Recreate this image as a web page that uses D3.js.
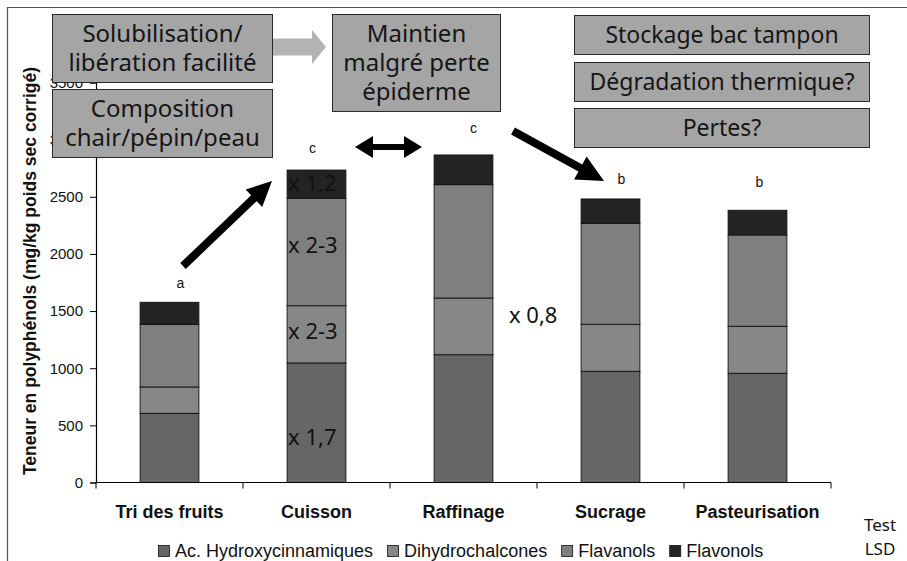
<!DOCTYPE html>
<html>
<head>
<meta charset="utf-8">
<script src="https://cdn.jsdelivr.net/npm/d3@7/dist/d3.min.js"></script>
<style>
  html, body { margin: 0; padding: 0; background: #fff; }
  svg { display: block; }
</style>
</head>
<body>
<svg id="chart" width="907" height="561"></svg>
<script>
// Process steps (x categories)
const categories = ["Tri des fruits", "Cuisson", "Raffinage", "Sucrage", "Pasteurisation"];

// Polyphenol content by class, mg/kg corrected dry weight
const acHydroxycinnamiques = [605, 1046, 1118, 973, 956];
const dihydrochalcones     = [231, 501, 496, 411, 411];
const flavanols            = [548, 940, 992, 884, 799];
const flavonols            = [193, 247, 260, 213, 216];

const seriesNames = ["Ac. Hydroxycinnamiques", "Dihydrochalcones", "Flavanols", "Flavonols"];
const seriesColors = ["#666666", "#878787", "#7f7f7f", "#232323"];

// LSD test groups
const lsdLetters = ["a", "c", "c", "b", "b"];

const yTicks = [0, 500, 1000, 1500, 2000, 2500, 3000, 3500];

const svg = d3.select("#chart");
const W = 907, H = 561;
const plot = { left: 96, right: 831, top: 82.5, bottom: 482.5 };

const x = d3.scaleBand()
  .domain(categories)
  .range([plot.left, plot.right])
  .paddingInner(0.6)
  .paddingOuter(0.3);

const y = d3.scaleLinear()
  .domain([0, 3500])
  .range([plot.bottom, plot.top]);

// outer frame (top and left edges)
svg.append("path")
  .attr("d", `M7.5,${H} V7.5 H${W}`)
  .attr("fill", "none")
  .attr("stroke", "#555")
  .attr("stroke-width", 1.2);

// stacked bars
const table = categories.map((c, i) => ({
  cat: c,
  "Ac. Hydroxycinnamiques": acHydroxycinnamiques[i],
  "Dihydrochalcones": dihydrochalcones[i],
  "Flavanols": flavanols[i],
  "Flavonols": flavonols[i]
}));
const stacked = d3.stack().keys(seriesNames)(table);

svg.append("g").selectAll("g")
  .data(stacked)
  .join("g")
  .attr("fill", (d, i) => seriesColors[i])
  .selectAll("rect")
  .data(d => d)
  .join("rect")
  .attr("x", d => x(d.data.cat))
  .attr("width", x.bandwidth())
  .attr("y", d => y(d[1]))
  .attr("height", d => y(d[0]) - y(d[1]))
  .attr("stroke", "#111")
  .attr("stroke-width", 0.9);

// y axis
const yAxis = svg.append("g")
  .attr("transform", `translate(${plot.left},0)`)
  .call(d3.axisLeft(y).tickValues(yTicks).tickSize(6).tickPadding(7).tickFormat(d3.format("d")));
yAxis.select(".domain").attr("stroke", "#000").attr("stroke-width", 1.2);
yAxis.selectAll(".tick line").attr("stroke", "#000");
yAxis.selectAll("text")
  .attr("font-family", "'Liberation Sans', Arial, sans-serif")
  .attr("font-size", 15)
  .attr("fill", "#111");

// x axis: baseline with ticks between categories
const step = x.step();
const gapHalf = step * x.paddingInner() / 2;
const xAxis = svg.append("g");
xAxis.append("line")
  .attr("x1", plot.left).attr("x2", plot.right)
  .attr("y1", plot.bottom).attr("y2", plot.bottom)
  .attr("stroke", "#000").attr("stroke-width", 1.2);
const boundaries = categories.map(c => x(c) - gapHalf).concat([x(categories[categories.length - 1]) + x.bandwidth() + gapHalf]);
xAxis.selectAll("line.tk")
  .data(boundaries)
  .join("line")
  .attr("class", "tk")
  .attr("x1", d => d).attr("x2", d => d)
  .attr("y1", plot.bottom).attr("y2", plot.bottom + 6)
  .attr("stroke", "#000");
xAxis.selectAll("text")
  .data(categories)
  .join("text")
  .attr("x", d => x(d) + x.bandwidth() / 2)
  .attr("y", 518)
  .attr("text-anchor", "middle")
  .attr("font-family", "'Liberation Sans', Arial, sans-serif")
  .attr("font-weight", "bold")
  .attr("font-size", 18)
  .attr("fill", "#111")
  .text(d => d);

// y axis title
svg.append("text")
  .attr("transform", "translate(36,271) rotate(-90)")
  .attr("text-anchor", "middle")
  .attr("font-family", "'Liberation Sans', Arial, sans-serif")
  .attr("font-weight", "bold")
  .attr("font-size", 17.5)
  .attr("fill", "#111")
  .text("Teneur en polyphénols (mg/kg poids sec corrigé)");

// LSD letters above bars
const letterNudge = [[11, -19], [-4, -22], [10, -27], [11, -20], [2, -28]];
svg.append("g").selectAll("text")
  .data(lsdLetters)
  .join("text")
  .attr("x", (d, i) => x(categories[i]) + x.bandwidth() / 2 + letterNudge[i][0])
  .attr("y", (d, i) => y(acHydroxycinnamiques[i] + dihydrochalcones[i] + flavanols[i] + flavonols[i]) + letterNudge[i][1])
  .attr("dy", "0.35em")
  .attr("text-anchor", "middle")
  .attr("font-family", "'Liberation Sans', Arial, sans-serif")
  .attr("font-size", 14)
  .attr("fill", "#111")
  .text(d => d);

// fold-change labels inside the Cuisson bar
const ann = "'Noto Sans', 'Open Sans', sans-serif";
const cuisson = table[1];
const cx0 = x("Cuisson") + 1;
const foldLabels = [
  { t: "x 1,7", v: cuisson["Ac. Hydroxycinnamiques"] * 0.38 },
  { t: "x 2-3", v: cuisson["Ac. Hydroxycinnamiques"] + cuisson["Dihydrochalcones"] * 0.55 },
  { t: "x 2-3", v: cuisson["Ac. Hydroxycinnamiques"] + cuisson["Dihydrochalcones"] + cuisson["Flavanols"] * 0.56 },
  { t: "x 1,2", v: 2734 - 115 }
];
svg.append("g").selectAll("text")
  .data(foldLabels)
  .join("text")
  .attr("x", cx0)
  .attr("y", d => y(d.v))
  .attr("dy", "0.35em")
  .attr("font-family", ann)
  .attr("font-size", 22)
  .attr("fill", "#111")
  .text(d => d.t);

svg.append("text")
  .attr("x", 509).attr("y", 315).attr("dy", "0.35em")
  .attr("font-family", ann).attr("font-size", 22).attr("fill", "#111")
  .text("x 0,8");

// arrow polygon helper
function arrowPts(x1, y1, x2, y2, sw, hl, hw) {
  const dx = x2 - x1, dy = y2 - y1, L = Math.hypot(dx, dy);
  const ux = dx / L, uy = dy / L, nx = -uy, ny = ux;
  const bx = x2 - ux * hl, by = y2 - uy * hl;
  const p = [
    [x1 + nx * sw / 2, y1 + ny * sw / 2],
    [bx + nx * sw / 2, by + ny * sw / 2],
    [bx + nx * hw / 2, by + ny * hw / 2],
    [x2, y2],
    [bx - nx * hw / 2, by - ny * hw / 2],
    [bx - nx * sw / 2, by - ny * sw / 2],
    [x1 - nx * sw / 2, y1 - ny * sw / 2]
  ];
  return p.map(q => q.join(",")).join(" ");
}
function doubleArrowPts(x1, x2, yc, sw, hl, hw) {
  const p = [
    [x1, yc], [x1 + hl, yc - hw / 2], [x1 + hl, yc - sw / 2],
    [x2 - hl, yc - sw / 2], [x2 - hl, yc - hw / 2], [x2, yc],
    [x2 - hl, yc + hw / 2], [x2 - hl, yc + sw / 2],
    [x1 + hl, yc + sw / 2], [x1 + hl, yc + hw / 2]
  ];
  return p.map(q => q.join(",")).join(" ");
}

const arrows = svg.append("g");
arrows.append("polygon").attr("points", arrowPts(272, 47, 326, 47, 17, 14, 34)).attr("fill", "#b3b3b3");
arrows.append("polygon").attr("points", arrowPts(183, 266, 272, 181, 8, 25, 24)).attr("fill", "#000");
arrows.append("polygon").attr("points", arrowPts(513, 131, 604, 181, 8, 27, 26)).attr("fill", "#000");
arrows.append("polygon").attr("points", doubleArrowPts(355, 422, 147, 6, 18, 22)).attr("fill", "#000");

// annotation boxes
const boxes = [
  { x0: 52, y0: 14, x1: 272, y1: 82, fs: 24, lines: ["Solubilisation/", "libération facilité"] },
  { x0: 52, y0: 89, x1: 272, y1: 157, fs: 24, lines: ["Composition", "chair/pépin/peau"] },
  { x0: 332, y0: 14, x1: 500, y1: 111, fs: 24, lines: ["Maintien", "malgré perte", "épiderme"] },
  { x0: 574, y0: 15, x1: 869, y1: 54, fs: 23, lines: ["Stockage bac tampon"] },
  { x0: 574, y0: 62, x1: 869, y1: 101, fs: 23, lines: ["Dégradation thermique?"] },
  { x0: 574, y0: 108, x1: 869, y1: 147, fs: 23, lines: ["Pertes?"] }
];
const bg = svg.append("g").selectAll("g").data(boxes).join("g");
bg.append("rect")
  .attr("x", d => d.x0 + 0.5).attr("y", d => d.y0 + 0.5)
  .attr("width", d => d.x1 - d.x0).attr("height", d => d.y1 - d.y0)
  .attr("fill", "#a5a5a5").attr("stroke", "#2a2a2a").attr("stroke-width", 1);
bg.each(function (d) {
  const g = d3.select(this);
  const lh = d.fs * 1.2;
  const cy = (d.y0 + d.y1) / 2;
  d.lines.forEach((ln, k) => {
    g.append("text")
      .attr("x", (d.x0 + d.x1) / 2 + 0.5)
      .attr("y", cy + (k - (d.lines.length - 1) / 2) * lh)
      .attr("dy", "0.35em")
      .attr("text-anchor", "middle")
      .attr("font-family", ann)
      .attr("font-size", d.fs)
      .attr("fill", "#151515")
      .text(ln);
  });
});

// legend
const leg = svg.append("g");
let lx = 158;
seriesNames.forEach((n, i) => {
  leg.append("rect")
    .attr("x", lx + 0.5).attr("y", 545.5).attr("width", 11).attr("height", 11)
    .attr("fill", seriesColors[i]).attr("stroke", "#111").attr("stroke-width", 0.8);
  const t = leg.append("text")
    .attr("x", lx + 17).attr("y", 551).attr("dy", "0.35em")
    .attr("font-family", "'Liberation Sans', Arial, sans-serif")
    .attr("font-size", 18).attr("fill", "#111")
    .text(n);
  lx += 17 + t.node().getComputedTextLength() + 14;
});

// LSD test note
svg.append("text").attr("x", 880).attr("y", 531).attr("text-anchor", "middle")
  .attr("font-family", ann).attr("font-size", 17).attr("fill", "#111").text("Test");
svg.append("text").attr("x", 880).attr("y", 555).attr("text-anchor", "middle")
  .attr("font-family", ann).attr("font-size", 17).attr("fill", "#111").text("LSD");
</script>
</body>
</html>
